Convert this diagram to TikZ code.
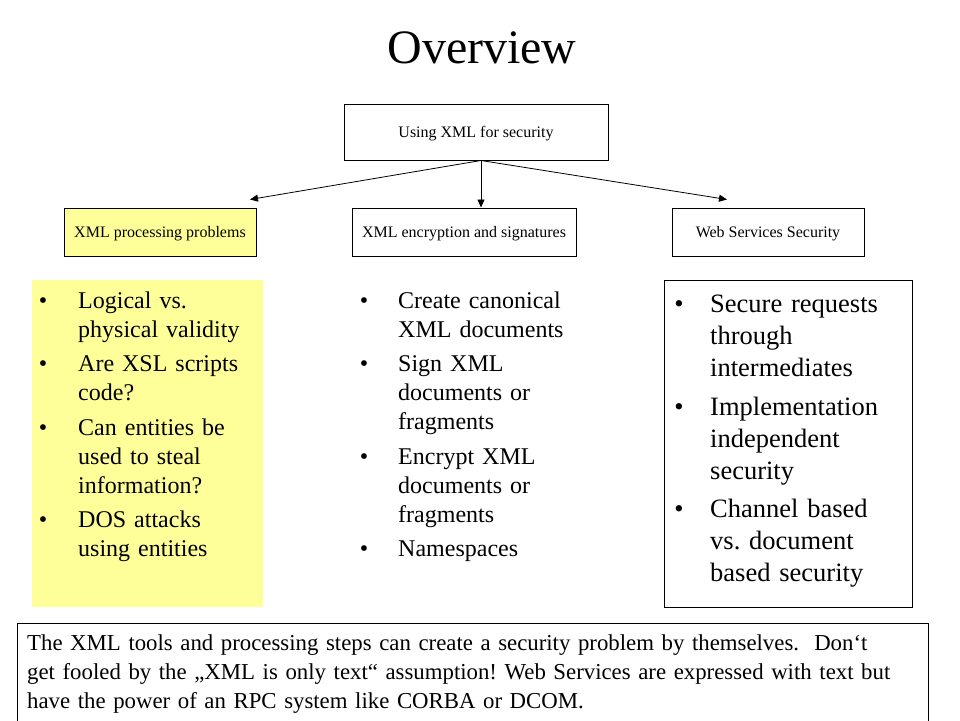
\documentclass[tikz,border=0pt]{standalone}
\usepackage{fontspec}
\setmainfont{Liberation Serif}
\usetikzlibrary{arrows.meta,positioning}
\definecolor{paleyellow}{HTML}{FFFF99}
\frenchspacing
\tikzset{
	box/.style={
		draw, line width=1pt, inner sep=0pt, text depth=0pt,
		font=\fontsize{16}{19}\selectfont
	},
	smallbox/.style={box, minimum width=192pt, minimum height=48pt},
	panel/.style={inner sep=0pt, minimum width=#1, minimum height=327pt},
	listitem/.style={
		anchor=base west, inner sep=0pt, text width=200pt, align=left,
		font=\fontsize{24}{29}\selectfont
	},
	biglistitem/.style={listitem, font=\fontsize{26.5}{32}\selectfont},
	bulletdot/.style={anchor=base, inner sep=0pt},
	fork_arrow/.style={-{Triangle[length=8pt,width=7pt]}, line width=0.8pt}
}
\begin{document}
\begin{tikzpicture}[x=1pt,y=-1pt]
	\useasboundingbox (0,0) rectangle (960,720);
	\node[font=\fontsize{48}{58}\selectfont, anchor=base] (title) at (482,63) {Overview};
	\node[box, minimum width=264pt, minimum height=56pt] (using) at (476,132) {Using XML for security};
	\node[smallbox, fill=paleyellow] (probs) at (160,232) {XML processing problems};
	\node[smallbox, minimum width=224pt] (enc) at (464,232) {XML encryption and signatures};
	\node[smallbox] (wss) at (768,232) {Web Services Security};
	% arrows from the top box
	\coordinate (fork) at ([xshift=5pt]using.south);
	\coordinate (lefttip) at ([xshift=90pt,yshift=8pt]probs.north);
	\coordinate (righttip) at ([xshift=-41pt,yshift=8pt]wss.north);
	\draw[fork_arrow] (fork) -- (lefttip);
	\draw[fork_arrow] (fork) -- (fork |- enc.north);
	\draw[fork_arrow] (fork) -- (righttip);
	% bullet panels
	\node[panel=231pt, fill=paleyellow] (probslist) at (147.5,443.5) {};
	\node[panel=248pt, draw, line width=1pt] (wsslist) at (788,443.5) {};
	\foreach \y/\txt [count=\i] in {308/{Logical vs.\\physical validity},
		371/{Are XSL scripts\\code?},
		435/{Can entities be\\used to steal\\information?},
		527/{DOS attacks\\using entities}} {
		\node[listitem] (p\i) at (78,\y) {\txt};
		\node[bulletdot, font=\fontsize{24}{29}\selectfont] (pb\i) at (43,\y) {•};
	}
	\foreach \y/\txt [count=\i] in {308/{Create canonical\\XML documents},
		371/{Sign XML\\documents or\\fragments},
		464/{Encrypt XML\\documents or\\fragments},
		556/{Namespaces}} {
		\node[listitem] (e\i) at (398,\y) {\txt};
		\node[bulletdot, font=\fontsize{24}{29}\selectfont] (eb\i) at (364,\y) {•};
	}
	\foreach \y/\txt [count=\i] in {312/{Secure requests\\through\\intermediates},
		415/{Implementation\\independent\\security},
		517/{Channel based\\vs. document\\based security}} {
		\node[biglistitem] (w\i) at (710,\y) {\txt};
		\node[bulletdot, font=\fontsize{26.5}{32}\selectfont] (wb\i) at (679,\y) {•};
	}
	% note at the bottom
	\node[draw, line width=1pt, minimum width=911pt, minimum height=102pt] (notebox) at (472.5,674) {};
	\node[listitem, text width=920pt, font=\fontsize{22.8}{29}\selectfont] (note) at (27,650)
		{The XML tools and processing steps can create a security problem by themselves.\ \ Don‘t\\
		get fooled by the „XML is only text“ assumption! Web Services are expressed with text but\\
		have the power of an RPC system like CORBA or DCOM.};
\end{tikzpicture}
\end{document}
